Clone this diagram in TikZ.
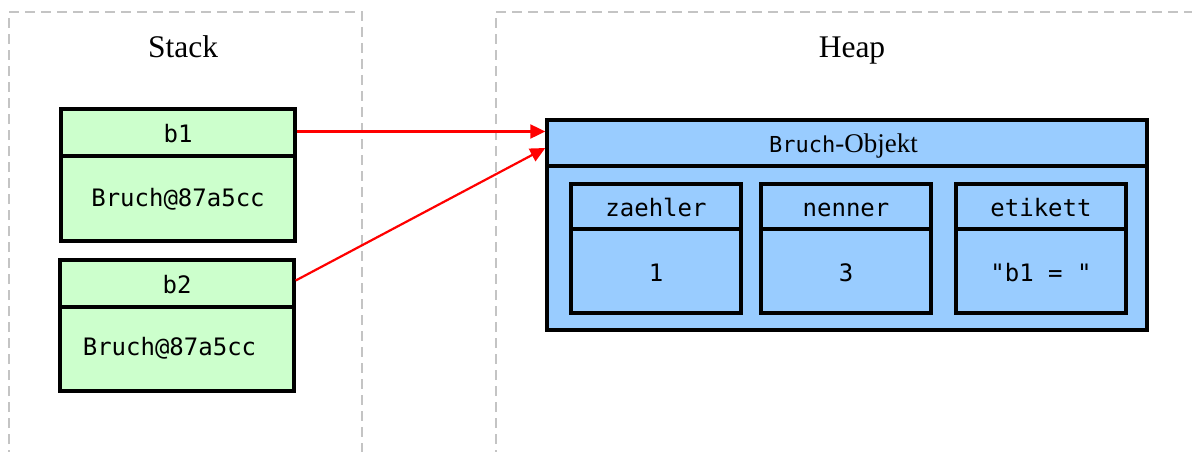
\documentclass[tikz,border=0pt]{standalone}
\usepackage{fontspec}
\setmainfont{Liberation Serif}
\setmonofont{DejaVu Sans Mono}
\usetikzlibrary{arrows.meta}
\definecolor{stackgreen}{HTML}{CCFFCC}
\definecolor{heapblue}{HTML}{99CCFF}
\definecolor{dashgray}{HTML}{C4C4C4}
\begin{document}
\begin{tikzpicture}[x=1pt,y=-1pt,
  cell/.style={draw=black, line width=3.4pt, inner sep=0pt, text height=20pt, text depth=0pt, font=\ttfamily\fontsize{24}{28}\selectfont},
  stackcell/.style={cell, fill=stackgreen},
  heapcell/.style={cell, fill=heapblue},
  plaintext/.style={inner sep=0pt, text height=20pt, text depth=0pt, font=\ttfamily\fontsize{24}{28}\selectfont},
  region/.style={draw=dashgray, line width=2pt, dash pattern=on 10pt off 6pt},
  ptr/.style={draw=red, line width=2.2pt, -{Triangle[length=15pt,width=14pt]}},
  areatitle/.style={inner sep=0pt, text height=21pt, text depth=0pt, font=\fontsize{31.5}{36}\selectfont}]
\useasboundingbox (0,0) rectangle (1192,452);
\begin{scope}
\clip (0,0) rectangle (1192,452);
\draw[region] (9,460) -- (9,12) -- (362,12) -- (362,460);
\draw[region] (496,460) -- (496,12) -- (1200,12);
\end{scope}
\node[areatitle] (stacktitle) at (183,47.5) {Stack};
\node[areatitle] (heaptitle) at (852,47.5) {Heap};
% stack variables
\node[stackcell, minimum width=234pt, minimum height=47pt] (b1h) at (178,132.5) {b1};
\node[stackcell, minimum width=234pt, minimum height=85pt, text height=16pt] (b1b) at (178,198.5) {Bruch@87a5cc};
\node[stackcell, minimum width=234pt, minimum height=47pt] (b2h) at (177,283.5) {b2};
\node[stackcell, minimum width=234pt, minimum height=84pt] (b2b) at (177,349) {};
\node[plaintext] (b2v) at (169.5,345.5) {Bruch@87a5cc};
% heap object
\node[heapcell, minimum width=600pt, minimum height=46pt] (objh) at (847,143) {};
\node[plaintext, text height=19pt] (objt) at (843.5,143) {{\fontsize{22}{28}\selectfont Bruch}{\rmfamily\fontsize{27}{30}\selectfont-Objekt}};
\node[heapcell, minimum width=600pt, minimum height=164pt] (objb) at (847,248) {};
\node[heapcell, minimum width=170pt, minimum height=45pt] (zh) at (656,206.5) {zaehler};
\node[heapcell, minimum width=170pt, minimum height=84pt] (zv) at (656,271) {1};
\node[heapcell, minimum width=170pt, minimum height=45pt] (nh) at (846,206.5) {nenner};
\node[heapcell, minimum width=170pt, minimum height=84pt] (nv) at (846,271) {3};
\node[heapcell, minimum width=170pt, minimum height=45pt] (eh) at (1041,206.5) {etikett};
\node[heapcell, minimum width=170pt, minimum height=84pt] (ev) at (1041,271) {"b1 = "};
% pointers
\coordinate (in1) at ([yshift=1pt]objh.west |- b1h.east);
\coordinate (in2) at ([yshift=-5pt]objh.west);
\draw[ptr] ([yshift=1pt]b1h.east) -- (in1);
\draw[ptr] ([yshift=3pt]b2h.east) -- (in2);
\end{tikzpicture}
\end{document}
